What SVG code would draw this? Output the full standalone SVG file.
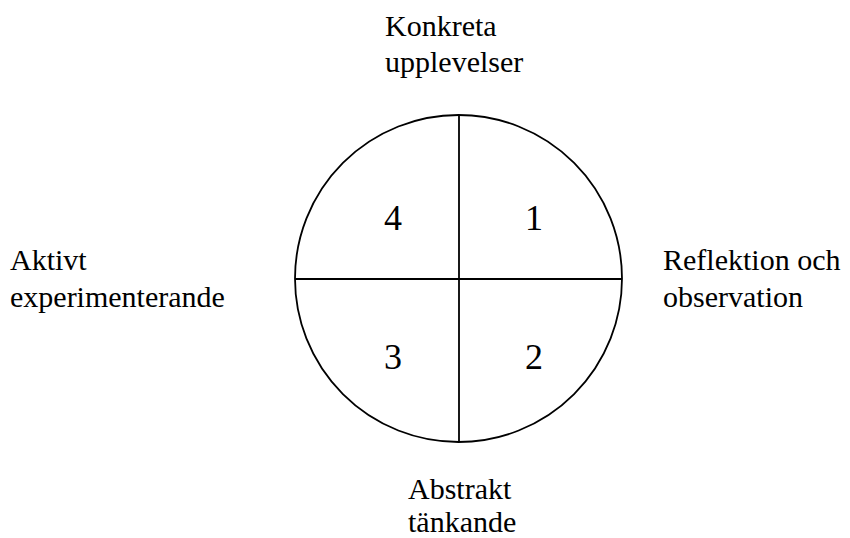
<svg xmlns="http://www.w3.org/2000/svg" width="850" height="538" viewBox="0 0 850 538">
<style>
.lbl{font-family:"Liberation Serif","Times New Roman",serif;font-size:30px;fill:#000}
.num{font-family:"Liberation Serif","Times New Roman",serif;font-size:36px;fill:#000;text-anchor:middle}
.ln{stroke:#000;stroke-width:1.8;fill:none}
</style>
<rect width="850" height="538" fill="#fff"/>
<g id="circle">
<circle class="ln" cx="458.5" cy="278.5" r="163.5"/>
</g>
<g id="connectors">
<line class="ln" x1="459" y1="115" x2="459" y2="442"/>
<line class="ln" x1="295" y1="279" x2="622" y2="279"/>
</g>
<g id="q1"><text class="num" x="534" y="230">1</text></g>
<g id="q2"><text class="num" x="534" y="369">2</text></g>
<g id="q3"><text class="num" x="393" y="369">3</text></g>
<g id="q4"><text class="num" x="393" y="230">4</text></g>
<g id="top"><text class="lbl" x="385" y="36">Konkreta</text><text class="lbl" x="385" y="72">upplevelser</text></g>
<g id="left"><text class="lbl" x="10" y="270">Aktivt</text><text class="lbl" x="10" y="307">experimenterande</text></g>
<g id="right"><text class="lbl" x="663" y="270">Reflektion och</text><text class="lbl" x="663" y="307">observation</text></g>
<g id="bottom"><text class="lbl" x="408" y="499">Abstrakt</text><text class="lbl" x="408" y="532">tänkande</text></g>
</svg>
